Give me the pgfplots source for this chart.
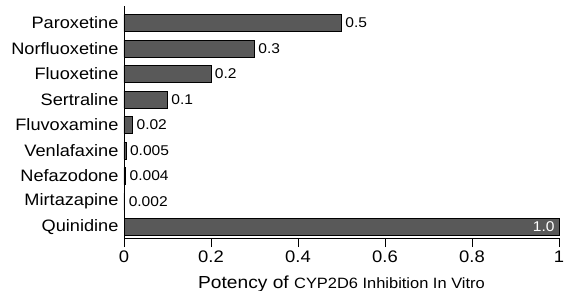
\documentclass[border=0pt]{standalone}
\usepackage{pgfplots}
\pgfplotsset{compat=1.18}
\usepackage{pgfplotstable}
\usepackage{fontspec}
\setmainfont{Liberation Sans}[FakeStretch=1.1]
\definecolor{barfill}{HTML}{595959}
\pgfplotstableread{
pos val lab
8 0.5 0.5
7 0.3 0.3
6 0.2 0.2
5 0.1 0.1
4 0.02 0.02
3 0.005 0.005
2 0.004 0.004
1 0.002 0.002
}\drugs
\begin{document}
\begin{tikzpicture}
\begin{axis}[name=ax, scale only axis, width=435bp, height=232bp,
  xmin=0, xmax=1, ymin=-0.43, ymax=8.67, clip=false,
  axis lines=left, axis line style={-, line width=0.8bp},
  xtick={0,0.2,0.4,0.6,0.8,1}, xticklabels={0,0.2,0.4,0.6,0.8,1},
  tick align=outside, major tick length=9bp,
  x tick style={line width=0.8bp, black},
  ytick={0,1,2,3,4,5,6,7,8},
  yticklabels={Quinidine,Mirtazapine,Nefazodone,Venlafaxine,Fluvoxamine,Sertraline,Fluoxetine,Norfluoxetine,Paroxetine},
  y tick style={draw=none},
  yticklabel style={font=\fontsize{16.6}{16.6}\selectfont, xshift=7bp},
  xticklabel style={font=\fontsize{16.8}{16.8}\selectfont},
  /pgf/number format/assume math mode=true,
  xlabel={\fontsize{17.5}{17.5}\selectfont Potency of {\fontsize{15}{15}\selectfont CYP2D6 Inhibition In Vitro}},
  xlabel style={at={(axis description cs:0.5,0)}, anchor=base, yshift=-50bp},
]
\addplot[xbar, bar shift=0pt, bar width=17bp, fill=barfill, draw=black, line width=0.8bp,
  point meta=explicit symbolic, nodes near coords,
  nodes near coords style={font=\fontsize{14.2}{14.2}\selectfont, anchor=west, text=black, inner sep=2bp, xshift=1.5bp}]
  table[x=val, y=pos, meta=lab] {\drugs};
\addplot[xbar, bar shift=0pt, bar width=17bp, fill=barfill, draw=black, line width=0.8bp,
  point meta=explicit symbolic, nodes near coords,
  nodes near coords style={font=\fontsize{14.2}{14.2}\selectfont, anchor=east, text=white, inner sep=4bp}]
  coordinates {(1,0) [1.0]};
\end{axis}
\pgfresetboundingbox
\path[use as bounding box] (ax.south west) ++(-124bp,-53bp) rectangle ++(566bp,291bp);
\end{tikzpicture}
\end{document}
